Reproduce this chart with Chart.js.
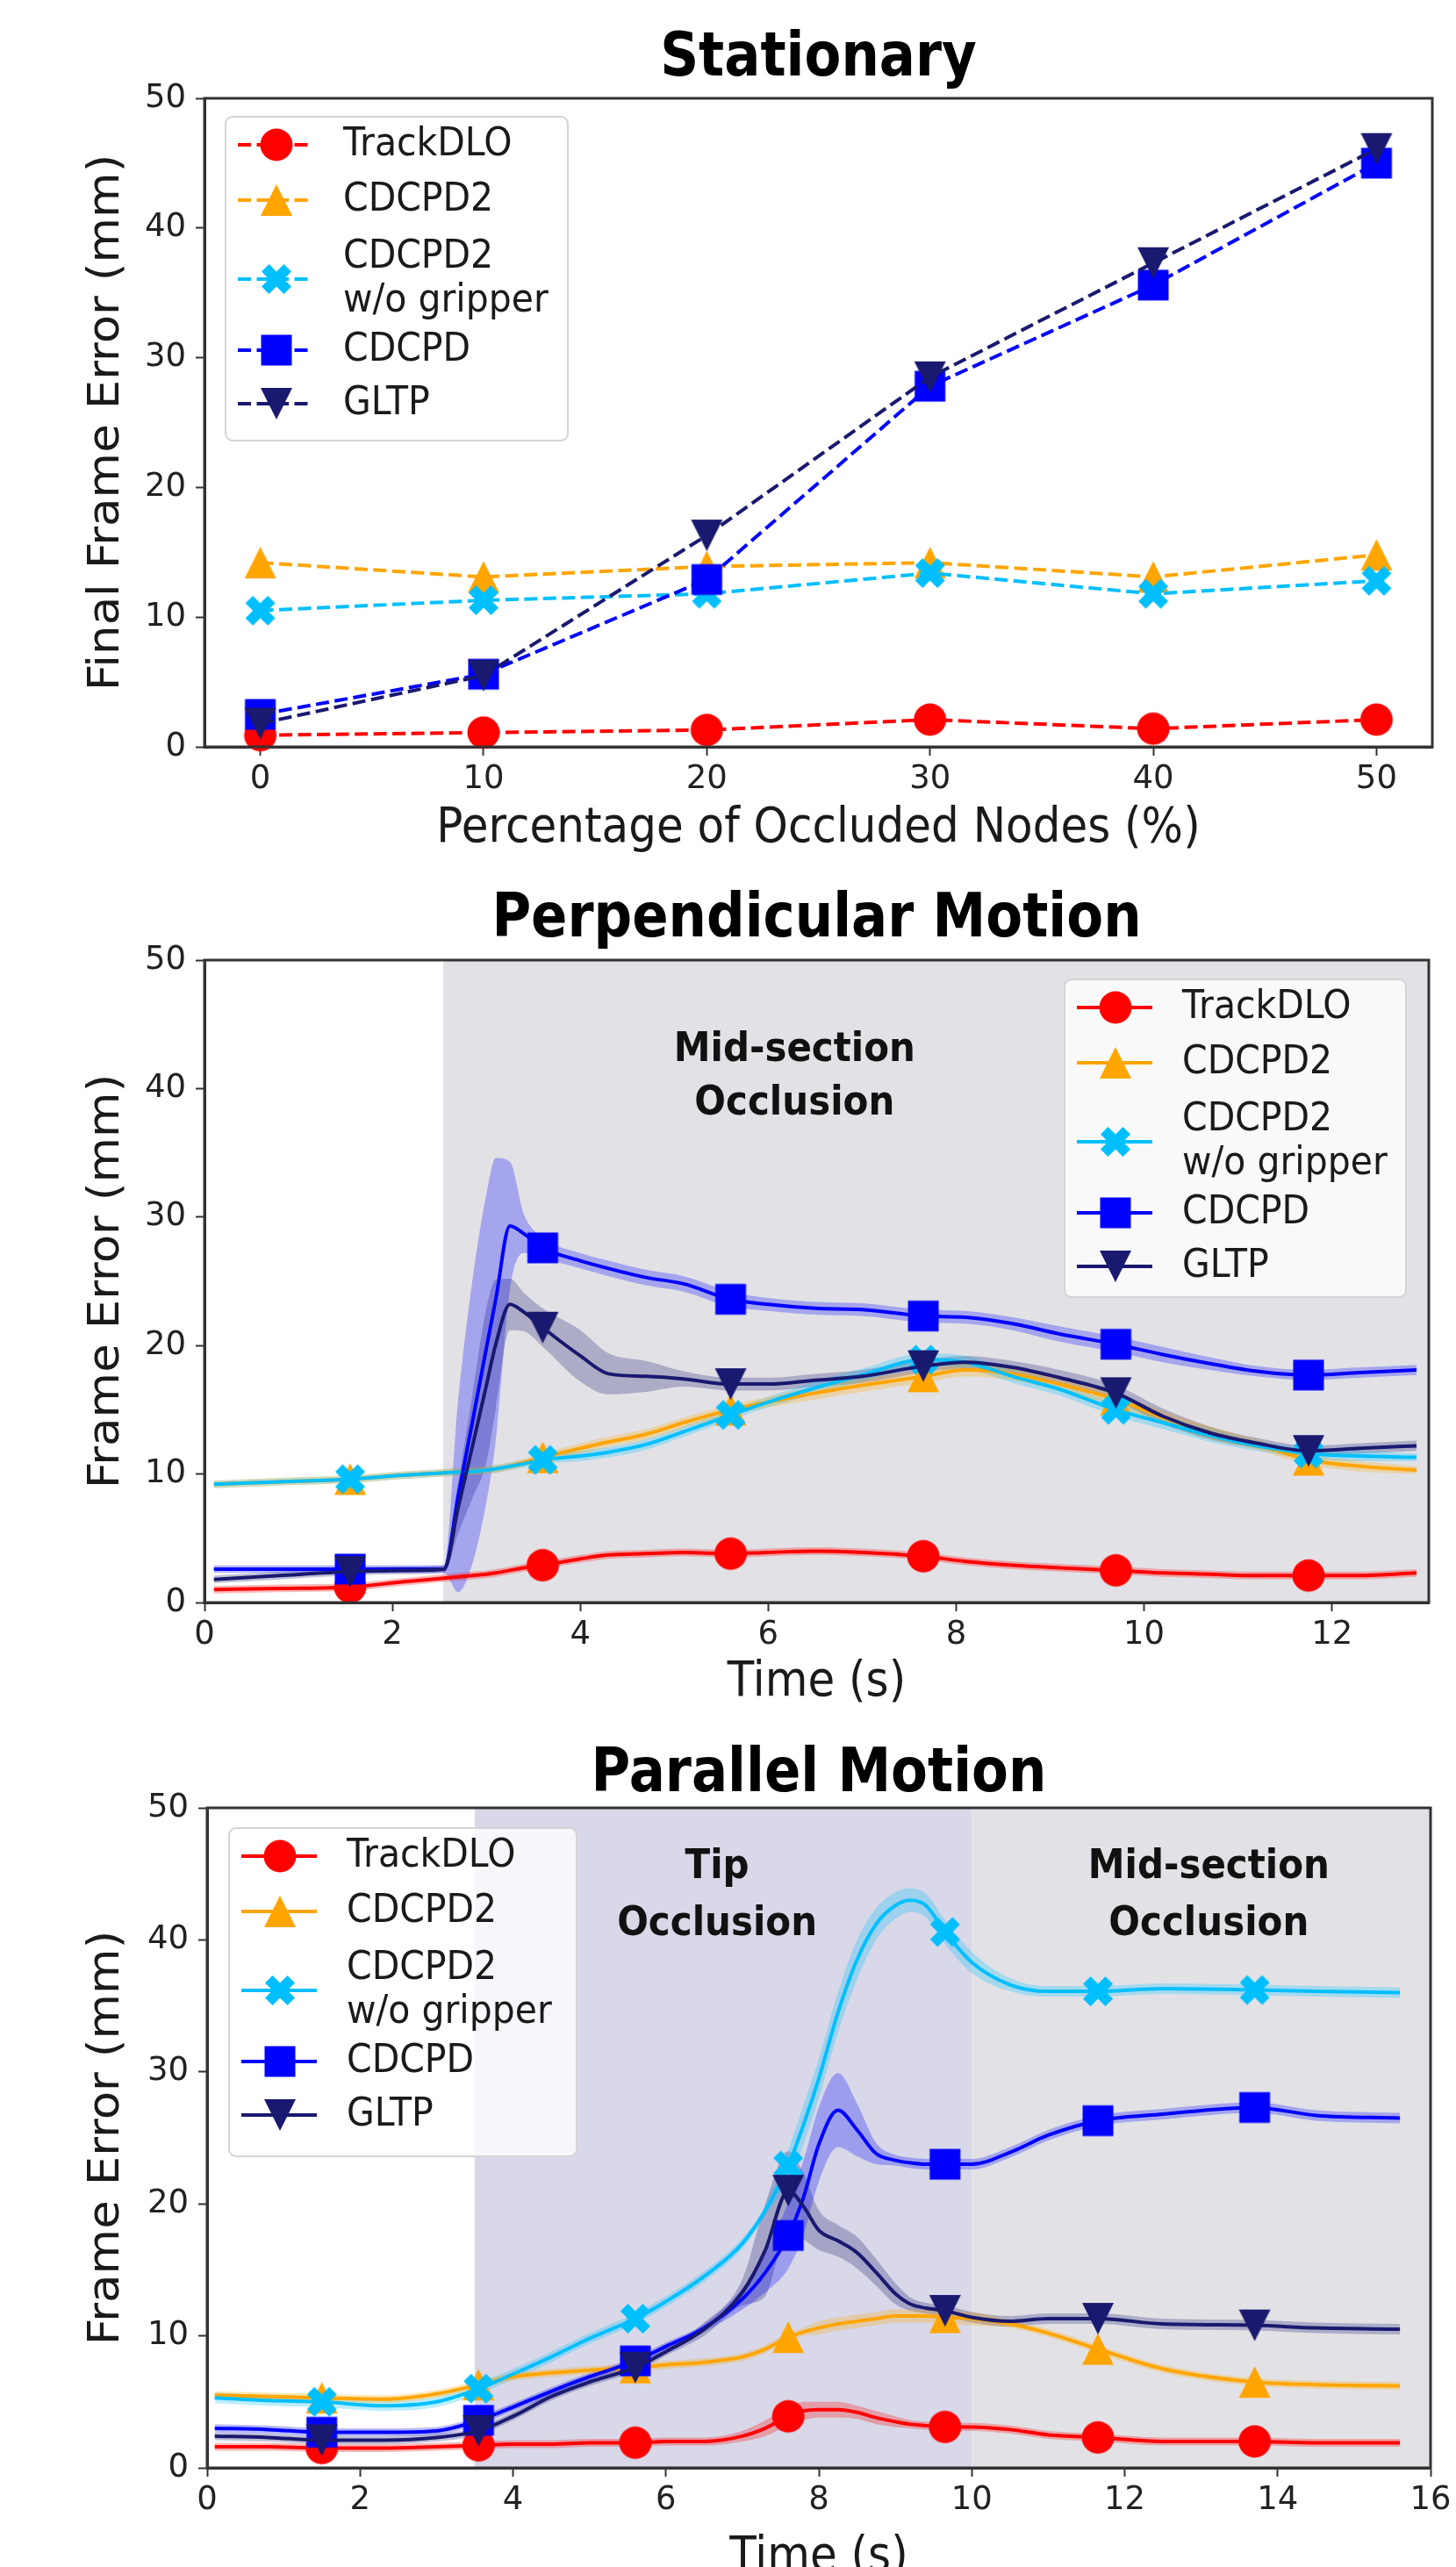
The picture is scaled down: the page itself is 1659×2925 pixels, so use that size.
<!DOCTYPE html>
<html>
<head>
<meta charset="utf-8">
<title>Frame error under occlusion</title>
<script src="https://cdn.jsdelivr.net/npm/chart.js@4.4.1/dist/chart.umd.min.js"></script>
<style>
  body { margin: 0; background: #fff; }
  #wrap { position: relative; width: 1659px; height: 2925px; overflow: hidden; }
  canvas { position: absolute; left: 0; }
</style>
</head>
<body>
<div id="wrap">
  <canvas id="stationary" width="1659" height="975" style="top:0px"></canvas>
  <canvas id="perpendicular" width="1659" height="985" style="top:975px"></canvas>
  <canvas id="parallel" width="1659" height="965" style="top:1960px"></canvas>
</div>
<script>
const seriesNames = ['TrackDLO', 'CDCPD2', 'CDCPD2\nw/o gripper', 'CDCPD', 'GLTP'];
const seriesColors = ['#ff0000', '#ffa500', '#00bfff', '#0000ff', '#191970'];
const seriesMarkers = ['o', '^', 'X', 's', 'v'];

const yTicks = [0, 10, 20, 30, 40, 50];

// Stationary
const occludedPct = [0, 10, 20, 30, 40, 50];
const statXTicks = [0, 10, 20, 30, 40, 50];
const statTrackDLO = [0.9, 1.1, 1.3, 2.1, 1.4, 2.1];
const statCDCPD2 = [14.2, 13.1, 13.9, 14.2, 13.1, 14.8];
const statCDCPD2NoGrip = [10.5, 11.3, 11.8, 13.4, 11.8, 12.8];
const statCDCPD = [2.5, 5.6, 12.9, 27.8, 35.6, 45.0];
const statGLTP = [1.8, 5.5, 16.3, 28.5, 37.3, 46.1];

// Perpendicular motion
const perpXTicks = [0, 2, 4, 6, 8, 10, 12];
const perpOcclusion = [2.54, 13.2];
const perpMarkerTime = [1.55, 3.6, 5.6, 7.65, 9.7, 11.75];
const perpTime = [0.1, 0.8, 1.55, 2.1, 2.55, 2.7, 2.85, 3.0, 3.1, 3.25, 3.4, 3.6, 4.0, 4.3, 4.7, 5.1, 5.6, 6.0, 6.5, 7.0, 7.65, 8.1, 8.6, 9.1, 9.7, 10.2, 10.7, 11.2, 11.75, 12.3, 12.9];
const perpTrackDLO = [1.0, 1.1, 1.2, 1.6, 1.9, 2.0, 2.1, 2.2, 2.3, 2.5, 2.7, 2.9, 3.4, 3.7, 3.8, 3.9, 3.8, 3.9, 4.0, 3.9, 3.6, 3.2, 2.9, 2.7, 2.5, 2.3, 2.2, 2.1, 2.1, 2.1, 2.3];
const perpCDCPD2 = [9.2, 9.4, 9.6, 9.9, 10.1, 10.15, 10.2, 10.3, 10.4, 10.6, 10.9, 11.3, 12.0, 12.5, 13.1, 14.0, 15.0, 15.6, 16.3, 16.9, 17.6, 18.1, 17.8, 17.0, 15.8, 14.4, 13.2, 12.3, 11.1, 10.6, 10.3];
const perpCDCPD2NoGrip = [9.2, 9.4, 9.6, 9.9, 10.1, 10.15, 10.2, 10.3, 10.4, 10.6, 10.8, 11.1, 11.4, 11.7, 12.3, 13.3, 14.6, 15.6, 16.7, 17.7, 18.9, 18.7, 17.6, 16.6, 15.0, 14.0, 13.0, 12.2, 11.6, 11.4, 11.3];
const perpCDCPD = [2.6, 2.6, 2.6, 2.6, 2.6, 8.3, 14.0, 19.8, 23.6, 29.3, 28.7, 27.6, 26.6, 26.0, 25.3, 24.8, 23.6, 23.2, 22.9, 22.8, 22.3, 22.2, 21.7, 20.9, 20.1, 19.3, 18.6, 18.0, 17.7, 17.9, 18.1];
const perpGLTP = [1.8, 2.1, 2.4, 2.5, 2.6, 7.4, 12.1, 16.9, 20.1, 23.2, 22.6, 21.4, 19.2, 17.8, 17.6, 17.4, 17.0, 17.0, 17.3, 17.6, 18.4, 18.7, 18.3, 17.5, 16.3, 14.5, 13.2, 12.4, 11.8, 12.0, 12.2];
// spread (shaded band half-width)
const perpTrackDLOSd = [0.3, 0.3, 0.3, 0.3, 0.3, 0.3, 0.3, 0.3, 0.3, 0.3, 0.3, 0.3, 0.3, 0.3, 0.3, 0.3, 0.3, 0.3, 0.3, 0.3, 0.3, 0.3, 0.3, 0.3, 0.3, 0.3, 0.3, 0.3, 0.3, 0.3, 0.3];
const perpCDCPD2Sd = [0.3, 0.3, 0.3, 0.3, 0.3, 0.3, 0.3, 0.3, 0.3, 0.3, 0.3, 0.3, 0.4, 0.4, 0.4, 0.4, 0.4, 0.4, 0.5, 0.5, 0.5, 0.5, 0.5, 0.5, 0.5, 0.5, 0.5, 0.4, 0.4, 0.4, 0.3];
const perpCDCPD2NoGripSd = [0.3, 0.3, 0.3, 0.3, 0.3, 0.3, 0.3, 0.3, 0.3, 0.3, 0.3, 0.3, 0.4, 0.4, 0.4, 0.4, 0.4, 0.4, 0.5, 0.5, 0.5, 0.5, 0.5, 0.5, 0.5, 0.5, 0.5, 0.4, 0.4, 0.4, 0.3];
const perpCDCPDSd = [0.3, 0.3, 0.3, 0.3, 0.3, 7.5, 11.0, 12.0, 11.0, 5.0, 1.5, 0.8, 0.6, 0.6, 0.6, 0.6, 0.6, 0.5, 0.5, 0.5, 0.5, 0.5, 0.5, 0.6, 0.6, 0.6, 0.5, 0.4, 0.4, 0.4, 0.4];
const perpGLTPSd = [0.3, 0.3, 0.3, 0.3, 0.3, 2.0, 4.0, 6.0, 5.0, 2.0, 1.5, 1.5, 2.0, 1.6, 1.2, 0.6, 0.5, 0.5, 0.5, 0.5, 0.5, 0.5, 0.5, 0.6, 0.6, 0.6, 0.5, 0.4, 0.4, 0.4, 0.4];

// Parallel motion
const paraXTicks = [0, 2, 4, 6, 8, 10, 12, 14, 16];
const paraTipOcclusion = [3.5, 10];
const paraMidOcclusion = [10, 16.2];
const paraMarkerTime = [1.5, 3.55, 5.6, 7.6, 9.65, 11.65, 13.7];
const paraTime = [0.1, 0.8, 1.5, 2.3, 3.0, 3.55, 4.0, 4.5, 5.0, 5.6, 6.0, 6.5, 7.0, 7.3, 7.6, 7.8, 8.0, 8.25, 8.5, 8.75, 9.0, 9.2, 9.4, 9.65, 10.0, 10.5, 11.0, 11.65, 12.5, 13.7, 14.5, 15.6];
const paraTrackDLO = [1.6, 1.6, 1.5, 1.5, 1.6, 1.7, 1.8, 1.8, 1.9, 1.9, 2.0, 2.0, 2.4, 3.0, 3.9, 4.3, 4.4, 4.4, 4.2, 3.8, 3.5, 3.3, 3.2, 3.1, 3.1, 2.9, 2.5, 2.3, 2.0, 2.0, 1.9, 1.9];
const paraCDCPD2 = [5.5, 5.4, 5.3, 5.2, 5.6, 6.3, 6.9, 7.2, 7.4, 7.6, 7.8, 8.0, 8.4, 9.0, 9.9, 10.3, 10.6, 10.9, 11.1, 11.3, 11.5, 11.5, 11.5, 11.4, 11.3, 10.9, 10.2, 9.0, 7.5, 6.5, 6.3, 6.2];
const paraCDCPD2NoGrip = [5.3, 5.1, 5.0, 4.7, 5.0, 6.0, 7.1, 8.4, 9.8, 11.3, 12.6, 14.5, 17.0, 19.5, 22.9, 26.0, 29.5, 34.5, 38.5, 41.2, 42.6, 43.0, 42.6, 40.6, 38.3, 36.6, 36.1, 36.1, 36.3, 36.2, 36.1, 36.0];
const paraCDCPD = [3.0, 2.9, 2.7, 2.7, 2.8, 3.6, 4.6, 5.8, 6.9, 8.1, 9.2, 10.6, 12.8, 14.8, 17.6, 20.5, 24.5, 27.1, 25.6, 23.8, 23.3, 23.1, 23.0, 23.0, 23.0, 23.9, 25.2, 26.3, 26.8, 27.3, 26.7, 26.5];
const paraGLTP = [2.4, 2.3, 2.1, 2.1, 2.3, 2.8, 3.9, 5.4, 6.5, 7.6, 8.8, 10.5, 13.3, 16.5, 21.0, 19.8, 18.0, 17.2, 16.3, 14.8, 13.2, 12.4, 12.1, 11.9, 11.4, 11.1, 11.3, 11.3, 10.9, 10.8, 10.6, 10.5];
const paraTrackDLOSd = [0.3, 0.3, 0.3, 0.3, 0.3, 0.3, 0.3, 0.3, 0.3, 0.3, 0.3, 0.3, 0.4, 0.6, 0.7, 0.7, 0.6, 0.6, 0.5, 0.5, 0.4, 0.3, 0.3, 0.3, 0.3, 0.3, 0.3, 0.3, 0.3, 0.3, 0.3, 0.3];
const paraCDCPD2Sd = [0.3, 0.3, 0.3, 0.3, 0.3, 0.3, 0.3, 0.3, 0.3, 0.3, 0.3, 0.3, 0.3, 0.3, 0.3, 0.3, 0.5, 0.5, 0.5, 0.5, 0.5, 0.5, 0.5, 0.5, 0.5, 0.3, 0.3, 0.3, 0.3, 0.3, 0.3, 0.3];
const paraCDCPD2NoGripSd = [0.4, 0.4, 0.4, 0.4, 0.4, 0.4, 0.4, 0.4, 0.4, 0.4, 0.4, 0.4, 0.4, 0.4, 1.2, 1.5, 1.5, 1.5, 1.5, 1.2, 1.0, 0.9, 0.9, 0.9, 0.8, 0.5, 0.4, 0.4, 0.4, 0.4, 0.4, 0.4];
const paraCDCPDSd = [0.3, 0.3, 0.3, 0.3, 0.3, 0.3, 0.3, 0.3, 0.3, 0.3, 0.3, 0.3, 0.8, 1.5, 2.5, 2.8, 2.8, 2.8, 2.0, 0.8, 0.4, 0.4, 0.4, 0.4, 0.4, 0.4, 0.4, 0.4, 0.4, 0.4, 0.4, 0.4];
const paraGLTPSd = [0.3, 0.3, 0.3, 0.3, 0.3, 0.3, 0.3, 0.3, 0.3, 0.3, 0.3, 0.5, 1.0, 3.5, 3.0, 2.5, 1.5, 1.2, 1.2, 1.0, 0.8, 0.5, 0.4, 0.4, 0.4, 0.4, 0.4, 0.4, 0.4, 0.4, 0.4, 0.4];

const FONT = '"DejaVu Sans", sans-serif';

function makeMarker(shape, color) {
  const c = document.createElement('canvas');
  c.width = 44;
  c.height = 44;
  const g = c.getContext('2d');
  g.translate(22, 22);
  g.fillStyle = color;
  g.beginPath();
  if (shape === 'o') {
    g.arc(0, 0, 18.5, 0, Math.PI * 2);
  } else if (shape === 's') {
    g.rect(-17.5, -17.5, 35, 35);
  } else if (shape === '^') {
    g.moveTo(0, -18); g.lineTo(18, 18); g.lineTo(-18, 18);
  } else if (shape === 'v') {
    g.moveTo(0, 18); g.lineTo(18, -18); g.lineTo(-18, -18);
  } else if (shape === 'X') {
    const p = [[-0.25, -0.5], [0, -0.25], [0.25, -0.5], [0.5, -0.25], [0.25, 0], [0.5, 0.25],
               [0.25, 0.5], [0, 0.25], [-0.25, 0.5], [-0.5, 0.25], [-0.25, 0], [-0.5, -0.25]];
    p.forEach((q, k) => k ? g.lineTo(q[0] * 34, q[1] * 34) : g.moveTo(q[0] * 34, q[1] * 34));
  }
  g.closePath();
  g.fill();
  return c;
}

const markerImgs = seriesMarkers.map((m, i) => makeMarker(m, seriesColors[i]));

// text in the source figure is a bit taller than wide
function tallText(ctx, text, x, y, sx, sy) {
  ctx.save();
  ctx.translate(x, y);
  ctx.scale(sx, sy);
  ctx.fillText(text, 0, 0);
  ctx.restore();
}

function buildSets(xs, lines, spreads, markerXs, dashed) {
  const radius = xs.map(x => markerXs.includes(x) ? 18 : 0);
  const sets = [];
  lines.forEach((ys, i) => {
    sets.push({
      label: seriesNames[i],
      data: xs.map((x, j) => ({ x: x, y: ys[j] })),
      borderColor: seriesColors[i],
      borderWidth: 4,
      borderDash: dashed ? [15, 6.5] : [],
      pointStyle: markerImgs[i],
      pointRadius: radius,
      cubicInterpolationMode: dashed ? 'default' : 'monotone',
      clip: false,
      order: 5 - i
    });
  });
  if (spreads) {
    spreads.forEach((sd, i) => {
      sets.push({
        data: xs.map((x, j) => ({ x: x, y: lines[i][j] + sd[j] })),
        borderWidth: 0, pointRadius: 0, fill: false,
        cubicInterpolationMode: 'monotone', order: 20
      });
      sets.push({
        data: xs.map((x, j) => ({ x: x, y: lines[i][j] - sd[j] })),
        borderWidth: 0, pointRadius: 0, fill: '-1',
        backgroundColor: seriesColors[i] + '45',
        cubicInterpolationMode: 'monotone', order: 20
      });
    });
  }
  return sets;
}

function makeScales(xMin, xMax, xTicks, plotLeft, xHeight) {
  const tickFont = { family: FONT, size: 37 };
  const grid = { drawOnChartArea: false, tickLength: 10, tickWidth: 2, tickColor: '#333' };
  const border = { color: '#333', width: 3 };
  return {
    x: {
      type: 'linear', min: xMin, max: xMax,
      afterBuildTicks: s => { s.ticks = xTicks.map(v => ({ value: v })); },
      afterFit: s => { s.height = xHeight; },
      grid: grid, border: border,
      ticks: { font: tickFont, color: '#222', padding: 5, maxRotation: 0, autoSkip: false }
    },
    y: {
      type: 'linear', min: 0, max: 50,
      afterBuildTicks: s => { s.ticks = yTicks.map(v => ({ value: v })); },
      afterFit: s => { s.width = plotLeft; },
      grid: grid, border: border,
      ticks: { font: tickFont, color: '#222', padding: 11 }
    }
  };
}

const shading = {
  id: 'shading',
  beforeDatasetsDraw(chart, args, opts) {
    const { ctx, chartArea: a, scales: { x } } = chart;
    (opts.spans || []).forEach(sp => {
      const x0 = Math.max(a.left, x.getPixelForValue(sp.range[0]));
      const x1 = Math.min(a.right, x.getPixelForValue(sp.range[1]));
      ctx.fillStyle = sp.color;
      ctx.fillRect(x0, a.top, x1 - x0, a.bottom - a.top);
    });
  }
};

const frame = {
  id: 'frame',
  afterDatasetsDraw(chart) {
    const { ctx, chartArea: a } = chart;
    ctx.save();
    ctx.strokeStyle = '#333';
    ctx.lineWidth = 3;
    ctx.strokeRect(a.left, a.top, a.right - a.left, a.bottom - a.top);
    ctx.restore();
  }
};

const legendBox = {
  id: 'legendBox',
  afterDatasetsDraw(chart, args, opts) {
    const ctx = chart.ctx;
    const rows = [32, 95, 185, 266, 327];
    ctx.save();
    ctx.beginPath();
    ctx.roundRect(opts.left, opts.top, opts.width, opts.height, 8);
    ctx.fillStyle = 'rgba(255,255,255,0.8)';
    ctx.fill();
    ctx.strokeStyle = '#d4d4d4';
    ctx.lineWidth = 2;
    ctx.stroke();
    ctx.font = '41px ' + FONT;
    ctx.textBaseline = 'middle';
    ctx.textAlign = 'left';
    seriesNames.forEach((name, i) => {
      const y = opts.top + rows[i];
      ctx.strokeStyle = seriesColors[i];
      ctx.lineWidth = 4;
      ctx.setLineDash(opts.dashed ? [15, 6.5] : []);
      ctx.beginPath();
      ctx.moveTo(opts.left + 14, y);
      ctx.lineTo(opts.left + 100, y);
      ctx.stroke();
      ctx.setLineDash([]);
      ctx.drawImage(markerImgs[i], opts.left + 58 - 22, y - 22);
      ctx.fillStyle = '#1a1a1a';
      const parts = name.split('\n');
      parts.forEach((t, k) => {
        tallText(ctx, t, opts.left + 134, y + (k - (parts.length - 1) / 2) * 50, 1, 1.1);
      });
    });
    ctx.restore();
  }
};

const texts = {
  id: 'texts',
  afterDraw(chart, args, opts) {
    const { ctx, chartArea: a, scales: { x, y } } = chart;
    const cx = (a.left + a.right) / 2;
    ctx.save();
    ctx.fillStyle = '#000';
    ctx.textAlign = 'center';
    ctx.textBaseline = 'middle';
    ctx.font = 'bold 61px ' + FONT;
    tallText(ctx, opts.title, cx, opts.titleY, 1, 1.15);
    ctx.fillStyle = '#1a1a1a';
    ctx.font = '50px ' + FONT;
    tallText(ctx, opts.xLabel, cx, opts.xLabelY, 1, 1.1);
    ctx.save();
    ctx.translate(122, (a.top + a.bottom) / 2);
    ctx.rotate(-Math.PI / 2);
    tallText(ctx, opts.yLabel, 0, 0, 1.06, 1);
    ctx.restore();
    ctx.fillStyle = '#111';
    ctx.font = 'bold 42px ' + FONT;
    (opts.notes || []).forEach(n => {
      tallText(ctx, n.text, x.getPixelForValue(n.at[0]), y.getPixelForValue(n.at[1]), 1, 1.12);
    });
    ctx.restore();
  }
};

function drawChart(id, sets, scales, pad, extra) {
  return new Chart(document.getElementById(id), {
    type: 'line',
    data: { datasets: sets },
    options: {
      responsive: false,
      animation: false,
      devicePixelRatio: 1,
      events: [],
      layout: { padding: pad },
      scales: scales,
      plugins: {
        legend: { display: false },
        tooltip: { enabled: false },
        shading: { spans: extra.spans },
        legendBox: extra.legend,
        texts: extra.texts
      }
    },
    plugins: [shading, frame, legendBox, texts]
  });
}

drawChart('stationary',
  buildSets(occludedPct, [statTrackDLO, statCDCPD2, statCDCPD2NoGrip, statCDCPD, statGLTP], null, occludedPct, true),
  makeScales(-2.5, 52.5, statXTicks, 233, 124),
  { top: 112, right: 27, bottom: 0, left: 0 },
  {
    spans: [],
    legend: { left: 257, top: 133, width: 390, height: 369, dashed: true },
    texts: { title: 'Stationary', titleY: 68, xLabel: 'Percentage of Occluded Nodes (%)', xLabelY: 945, yLabel: 'Final Frame Error (mm)' }
  });

drawChart('perpendicular',
  buildSets(perpTime, [perpTrackDLO, perpCDCPD2, perpCDCPD2NoGrip, perpCDCPD, perpGLTP],
    [perpTrackDLOSd, perpCDCPD2Sd, perpCDCPD2NoGripSd, perpCDCPDSd, perpGLTPSd], perpMarkerTime, false),
  makeScales(0, 13.03, perpXTicks, 233, 134),
  { top: 119, right: 31, bottom: 0, left: 0 },
  {
    spans: [{ range: perpOcclusion, color: '#e2e2e6' }],
    legend: { left: 1213, top: 141, width: 389, height: 362, dashed: false },
    texts: {
      title: 'Perpendicular Motion', titleY: 74, xLabel: 'Time (s)', xLabelY: 943, yLabel: 'Frame Error (mm)',
      notes: [{ text: 'Mid-section', at: [6.28, 43.0] }, { text: 'Occlusion', at: [6.28, 38.8] }]
    }
  });

drawChart('parallel',
  buildSets(paraTime, [paraTrackDLO, paraCDCPD2, paraCDCPD2NoGrip, paraCDCPD, paraGLTP],
    [paraTrackDLOSd, paraCDCPD2Sd, paraCDCPD2NoGripSd, paraCDCPDSd, paraGLTPSd], paraMarkerTime, false),
  makeScales(0, 16, paraXTicks, 236, 113),
  { top: 100, right: 29, bottom: 0, left: 0 },
  {
    spans: [{ range: paraTipOcclusion, color: '#d8d8e8' }, { range: paraMidOcclusion, color: '#e2e2e6' }],
    legend: { left: 261, top: 123, width: 396, height: 374, dashed: false },
    texts: {
      title: 'Parallel Motion', titleY: 63, xLabel: 'Time (s)', xLabelY: 955, yLabel: 'Frame Error (mm)',
      notes: [
        { text: 'Tip', at: [6.67, 45.5] }, { text: 'Occlusion', at: [6.67, 41.2] },
        { text: 'Mid-section', at: [13.1, 45.5] }, { text: 'Occlusion', at: [13.1, 41.2] }
      ]
    }
  });
</script>
</body>
</html>
